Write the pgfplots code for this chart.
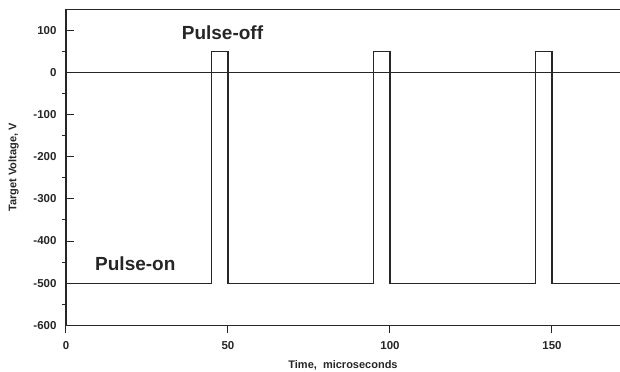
\documentclass[border=0pt]{standalone}
\usepackage{fontspec}
\setmainfont{Liberation Sans}
\setsansfont{Liberation Sans}
\usepackage{pgfplots}
\pgfplotsset{compat=1.18}
\begin{document}
\begin{tikzpicture}
\begin{axis}[
  scale only axis,
  width=554pt, height=316pt,
  xmin=0, xmax=171, ymin=-600, ymax=150,
  clip=false,
  axis x line*=bottom, axis y line*=left,
  axis line style={black!85, line width=1.1pt},
  xtick={0,50,100,150},
  ytick={-600,-500,-400,-300,-200,-100,0,100},
  xtick align=outside, ytick align=inside,
  major tick length=8pt,
  tick style={black!85, line width=1pt},
  extra y ticks={-550,-450,-350,-250,-150,-50,50},
  extra y tick labels={},
  extra y tick style={tick align=outside, major tick length=4pt},
  /pgf/number format/assume math mode=true,
  ticklabel style={font=\fontsize{11.5}{11.5}\selectfont\bfseries, black!85},
  xticklabel style={yshift=-5pt},
  yticklabel style={xshift=-6pt},
  xlabel={Time,\ \ microseconds},
  ylabel={Target Voltage, V},
  label style={font=\fontsize{11}{11}\selectfont\bfseries, black!85},
  xlabel style={yshift=-3.5pt},
  ylabel style={yshift=4pt},
]
\addplot[black!85, line width=1.1pt] coordinates {(0,150)(171,150)};
\addplot[black!85, line width=1pt] coordinates {(0,0)(171,0)};
\addplot[black!85, line width=1.1pt] coordinates {
  (0,-500)(45,-500)(45,50)(50,50)(50,-500)
  (95,-500)(95,50)(100,50)(100,-500)
  (145,-500)(145,50)(150,50)(150,-500)(171,-500)};
\node[font=\fontsize{19}{19}\selectfont\bfseries, black!85] at (axis cs:48.3,94) {Pulse-off};
\node[font=\fontsize{19}{19}\selectfont\bfseries, black!85] at (axis cs:21.4,-455) {Pulse-on};
\coordinate (bl) at (rel axis cs:0,0);
\coordinate (tr) at (rel axis cs:1,1);
\end{axis}
\pgfresetboundingbox
\path ([shift={(-66pt,-46.7pt)}]bl) rectangle ([shift={(0pt,9.3pt)}]tr);
\end{tikzpicture}
\end{document}
